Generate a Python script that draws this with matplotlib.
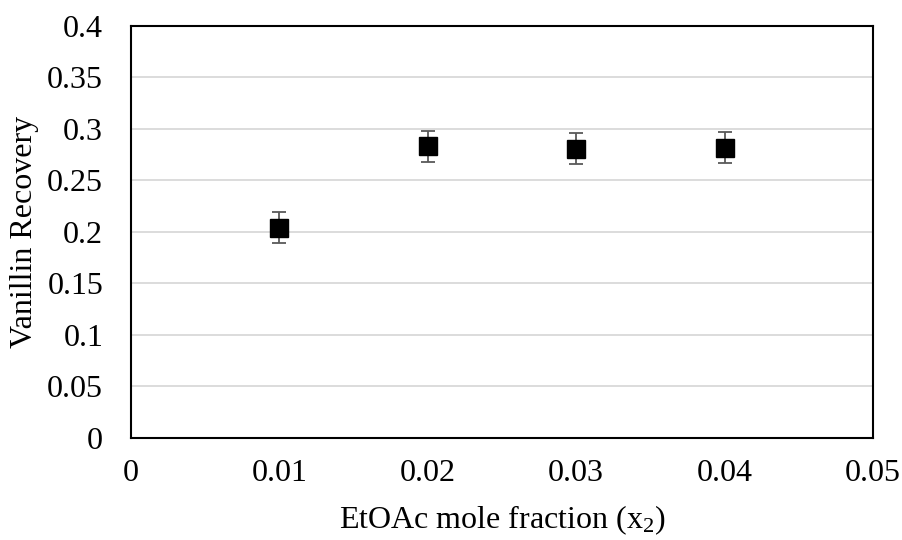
import numpy as np
import matplotlib
matplotlib.use("Agg")
import matplotlib.pyplot as plt

# data
x_frac = [0.01, 0.02, 0.03, 0.04]
recovery = [0.204, 0.283, 0.281, 0.282]
err = [0.015, 0.015, 0.015, 0.015]

plt.rcParams['font.family'] = ['Liberation Serif', 'DejaVu Serif']
plt.rcParams['mathtext.fontset'] = 'custom'
plt.rcParams['mathtext.rm'] = 'Liberation Serif'
plt.rcParams['mathtext.it'] = 'Liberation Serif'

fig = plt.figure(figsize=(9.02, 5.4), dpi=100)
ax = fig.add_axes([0.1452, 0.1889, 0.8226, 0.763])

ax.errorbar(x_frac, recovery, yerr=err, fmt='s', color='black', ms=13,
            ecolor='#595959', elinewidth=1.3, capsize=5, capthick=1.3, zorder=3)

ax.set_xlim(0, 0.05)
ax.set_ylim(0, 0.4)
ax.set_xticks([0, 0.01, 0.02, 0.03, 0.04, 0.05])
ax.set_xticklabels(['0', '0.01', '0.02', '0.03', '0.04', '0.05'])
ax.set_yticks(np.arange(0, 0.41, 0.05))
ax.set_yticklabels(['0', '0.05', '0.1', '0.15', '0.2', '0.25', '0.3', '0.35', '0.4'])
ax.tick_params(length=0, labelsize=23)
ax.tick_params(axis='y', pad=20)
ax.tick_params(axis='x', pad=15)
ax.grid(axis='y', color='#d9d9d9', linewidth=1.3)
ax.set_axisbelow(True)
for s in ax.spines.values():
    s.set_linewidth(1.5)
    s.set_color('black')

ax.set_xlabel('EtOAc mole fraction (x$_\\mathrm{2}$)', fontsize=23, labelpad=11)
ax.set_ylabel('Vanillin Recovery', fontsize=23, labelpad=6)

fig.savefig('out.png', dpi=100)
